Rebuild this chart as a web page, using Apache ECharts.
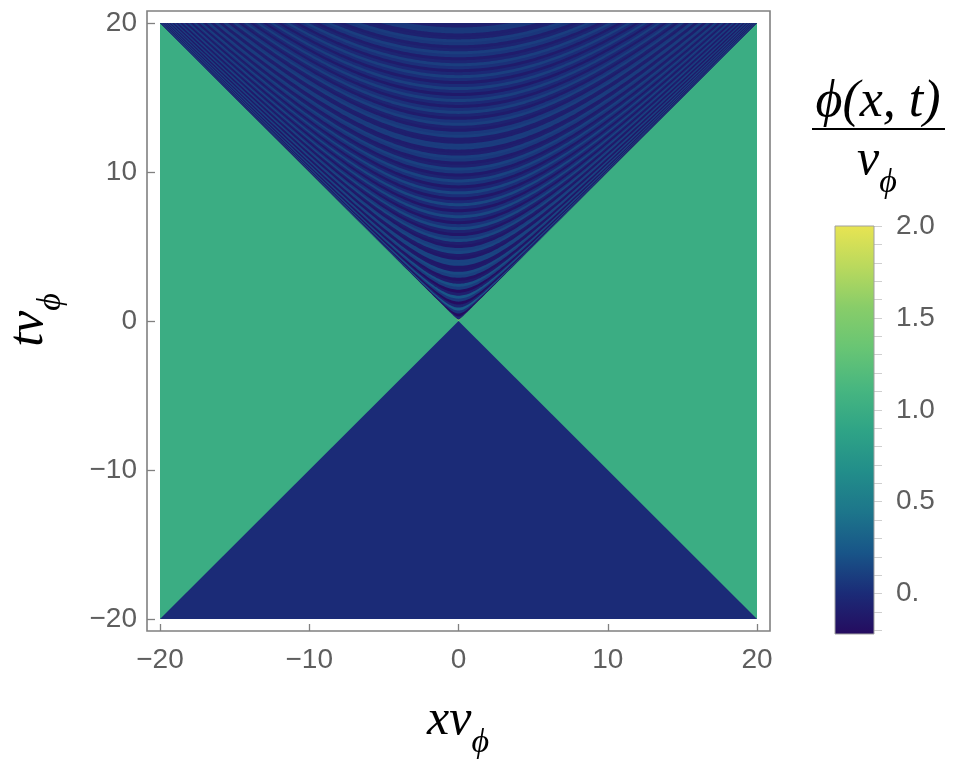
<!DOCTYPE html>
<html><head><meta charset="utf-8">
<script src="https://cdn.jsdelivr.net/npm/echarts@6/dist/echarts.min.js"></script>
<style>html,body{margin:0;padding:0;background:#fff}#c{width:973px;height:761px}</style>
</head><body><div id="c"></div>
<script>
// ---- data ----
const xTicks = [-20, -10, 0, 10, 20];
const tTicks = [-20, -10, 0, 10, 20];
const xRange = [-20, 20];
const tRange = [-20, 20];
const spacelikeValue = 1.0;   // |x| > |t|
const pastConeValue = 0.0;    // t < -|x|
// future light cone: value along x = 0, sampled at t = 0, 0.2, 0.4, ... 20
const profileStep = 0.2;
const futureProfile = [
  1.50, -0.01, -0.31, 0.04, 0.27, -0.05, -0.25, 0.07, 0.23, -0.08,
  -0.21, 0.09, 0.19, -0.11, -0.17, 0.11, 0.16, -0.12, -0.14, 0.13,
  0.13, -0.14, -0.11, 0.14, 0.10, -0.14, -0.09, 0.15, 0.07, -0.15,
  -0.06, 0.15, 0.04, -0.15, -0.03, 0.15, 0.02, -0.15, -0.01, 0.15,
  -0.01, -0.14, 0.02, 0.14, -0.03, -0.14, 0.04, 0.13, -0.05, -0.12,
  0.06, 0.12, -0.07, -0.11, 0.07, 0.10, -0.08, -0.10, 0.09, 0.09,
  -0.09, -0.08, 0.10, 0.07, -0.10, -0.06, 0.11, 0.05, -0.11, -0.04,
  0.11, 0.03, -0.11, -0.02, 0.11, 0.01, -0.12, -0.01, 0.11, 0.00,
  -0.11, 0.01, 0.11, -0.02, -0.11, 0.03, 0.10, -0.04, -0.10, 0.05,
  0.10, -0.05, -0.09, 0.06, 0.09, -0.07, -0.08, 0.07, 0.07, -0.08,
  -0.07
];
const colorbarRange = [-0.22, 2.0];
const colorbarMinorTicks = [-0.2, -0.1, 0, 0.1, 0.2, 0.3, 0.4, 0.5, 0.6, 0.7, 0.8, 0.9, 1.0, 1.1, 1.2, 1.3, 1.4, 1.5, 1.6, 1.7, 1.8, 1.9, 2.0];
const colorbarLabels = [0, 0.5, 1.0, 1.5, 2.0];
// colour map, evenly spaced from -0.22 to 2.0
const cmapColors = ['#250b5f', '#1b2b77', '#185588', '#1d768b', '#228e8a', '#2fa486', '#47b680', '#68c574', '#88cd69', '#bad95d', '#e8e452'];

// ---- chart ----
const chart = echarts.init(document.getElementById('c'), null, {renderer: 'canvas'});
const regionData = [[0, spacelikeValue], [1, pastConeValue]];
const bandData = futureProfile.map((v, i) => [i * profileStep, v]);

function renderRegion(params, api) {
  const id = api.value(0);
  let pts;
  if (id === 0) {
    pts = [[xRange[0], tRange[0]], [xRange[1], tRange[0]], [xRange[1], tRange[1]], [xRange[0], tRange[1]]];
  } else {
    pts = [[xRange[0], tRange[0]], [0, 0], [xRange[1], tRange[0]]];
  }
  return {type: 'polygon', silent: true, shape: {points: pts.map(p => api.coord(p))}, style: {fill: api.visual('color')}};
}

function renderBand(params, api) {
  const s = api.value(0);
  const a = Math.max(0, s - profileStep / 2);
  const T = tRange[1];
  let pts = [];
  if (a < 1e-9) {
    pts = [[-T, T], [0, 0], [T, T]];
  } else {
    const U = Math.acosh(T / a);
    const N = 120;
    for (let i = 0; i <= N; i++) {
      const u = -U + 2 * U * i / N;
      pts.push([a * Math.sinh(u), a * Math.cosh(u)]);
    }
  }
  return {type: 'polygon', silent: true, shape: {points: pts.map(p => api.coord(p))}, style: {fill: api.visual('color')}};
}

function renderColorbar(params, api) {
  const p0 = api.coord([0, colorbarRange[1]]);
  const p1 = api.coord([1, colorbarRange[0]]);
  const n = cmapColors.length;
  const stops = cmapColors.map((c, i) => ({offset: 1 - i / (n - 1), color: c}));
  return {
    type: 'rect', silent: true,
    shape: {x: p0[0], y: p0[1], width: p1[0] - p0[0], height: p1[1] - p0[1]},
    style: {fill: new echarts.graphic.LinearGradient(0, 0, 0, 1, stops), stroke: '#a0a0a0', lineWidth: 1}
  };
}

const tickFont = {fontFamily: 'Liberation Sans, Arial, sans-serif', fontSize: 28, color: '#5e5e5e'};
const fmt = v => { const r = Math.round(v); return r < 0 ? '\u2212' + Math.abs(r) : String(r); };
const mathFont = 'Liberation Serif, DejaVu Serif, serif';
const mathRich = (size, sub, drop) => ({
  m: {fontFamily: mathFont, fontStyle: 'italic', fontSize: size, color: '#000', padding: [0, 0, drop, 0], verticalAlign: 'bottom'},
  s: {fontFamily: mathFont, fontStyle: 'italic', fontSize: sub, color: '#000', verticalAlign: 'bottom'}
});

const option = {
  backgroundColor: '#fff',
  animation: false,
  grid: [
    {left: 147, right: 203, top: 11, bottom: 130, show: true, borderColor: '#808080', borderWidth: 1.6, backgroundColor: 'transparent'},
    {left: 835, width: 39, top: 226, bottom: 127, show: false}
  ],
  xAxis: [
    {type: 'value', gridIndex: 0, min: -20.871, max: 20.871, position: 'bottom',
     axisLine: {show: false, onZero: false}, splitLine: {show: false},
     axisTick: {show: true, inside: true, length: 7, customValues: xTicks, lineStyle: {color: '#808080', width: 1.3}},
     axisLabel: Object.assign({show: true, margin: 15, customValues: xTicks, formatter: fmt}, tickFont)},
    {type: 'value', gridIndex: 1, min: 0, max: 1, show: false}
  ],
  yAxis: [
    {type: 'value', gridIndex: 0, min: -20.805, max: 20.805, position: 'left',
     axisLine: {show: false, onZero: false}, splitLine: {show: false},
     axisTick: {show: true, inside: true, length: 8, customValues: tTicks, lineStyle: {color: '#808080', width: 1.3}},
     axisLabel: Object.assign({show: true, margin: 10, customValues: tTicks, formatter: fmt}, tickFont)},
    {type: 'value', gridIndex: 1, position: 'right', min: colorbarRange[0], max: colorbarRange[1],
     axisLine: {show: false, onZero: false}, splitLine: {show: false},
     axisTick: {show: true, inside: false, length: 8, customValues: colorbarMinorTicks, lineStyle: {color: '#cfcfcf', width: 1}},
     axisLabel: Object.assign({show: true, margin: 22, customValues: colorbarLabels,
       formatter: v => (Math.abs(v) < 1e-9 ? '0.' : v.toFixed(1))}, tickFont)}
  ],
  visualMap: {
    type: 'continuous', show: false, min: colorbarRange[0], max: colorbarRange[1],
    dimension: 1, seriesIndex: [0, 1], inRange: {color: cmapColors}
  },
  series: [
    {type: 'custom', name: 'regions', xAxisIndex: 0, yAxisIndex: 0, data: regionData, renderItem: renderRegion, progressive: 0, z: 2},
    {type: 'custom', name: 'future cone', xAxisIndex: 0, yAxisIndex: 0, data: bandData, renderItem: renderBand, progressive: 0, z: 3},
    {type: 'custom', name: 'colorbar', xAxisIndex: 1, yAxisIndex: 1, data: [[0]], renderItem: renderColorbar, progressive: 0, z: 2}
  ],
  graphic: [
    {type: 'text', x: 458, y: 728, silent: true,
     style: {text: '{m|xv}{s|\u03d5}', align: 'center', verticalAlign: 'middle', rich: mathRich(50, 34, 15)}},
    {type: 'text', x: 36, y: 320, rotation: Math.PI / 2, silent: true,
     style: {text: '{m|tv}{s|\u03d5}', align: 'center', verticalAlign: 'middle', rich: mathRich(50, 34, 15)}},
    {type: 'text', x: 878, y: 102, silent: true,
     style: {text: '\u03d5(x, t)', align: 'center', verticalAlign: 'middle', fontFamily: mathFont, fontStyle: 'italic', fontSize: 52, fill: '#000'}},
    {type: 'line', silent: true, shape: {x1: 812, y1: 129, x2: 945, y2: 129}, style: {stroke: '#000', lineWidth: 2}},
    {type: 'text', x: 877, y: 168, silent: true,
     style: {text: '{m|v}{s|\u03d5}', align: 'center', verticalAlign: 'middle', rich: mathRich(50, 34, 15)}}
  ]
};
chart.setOption(option);
</script>
</body></html>
